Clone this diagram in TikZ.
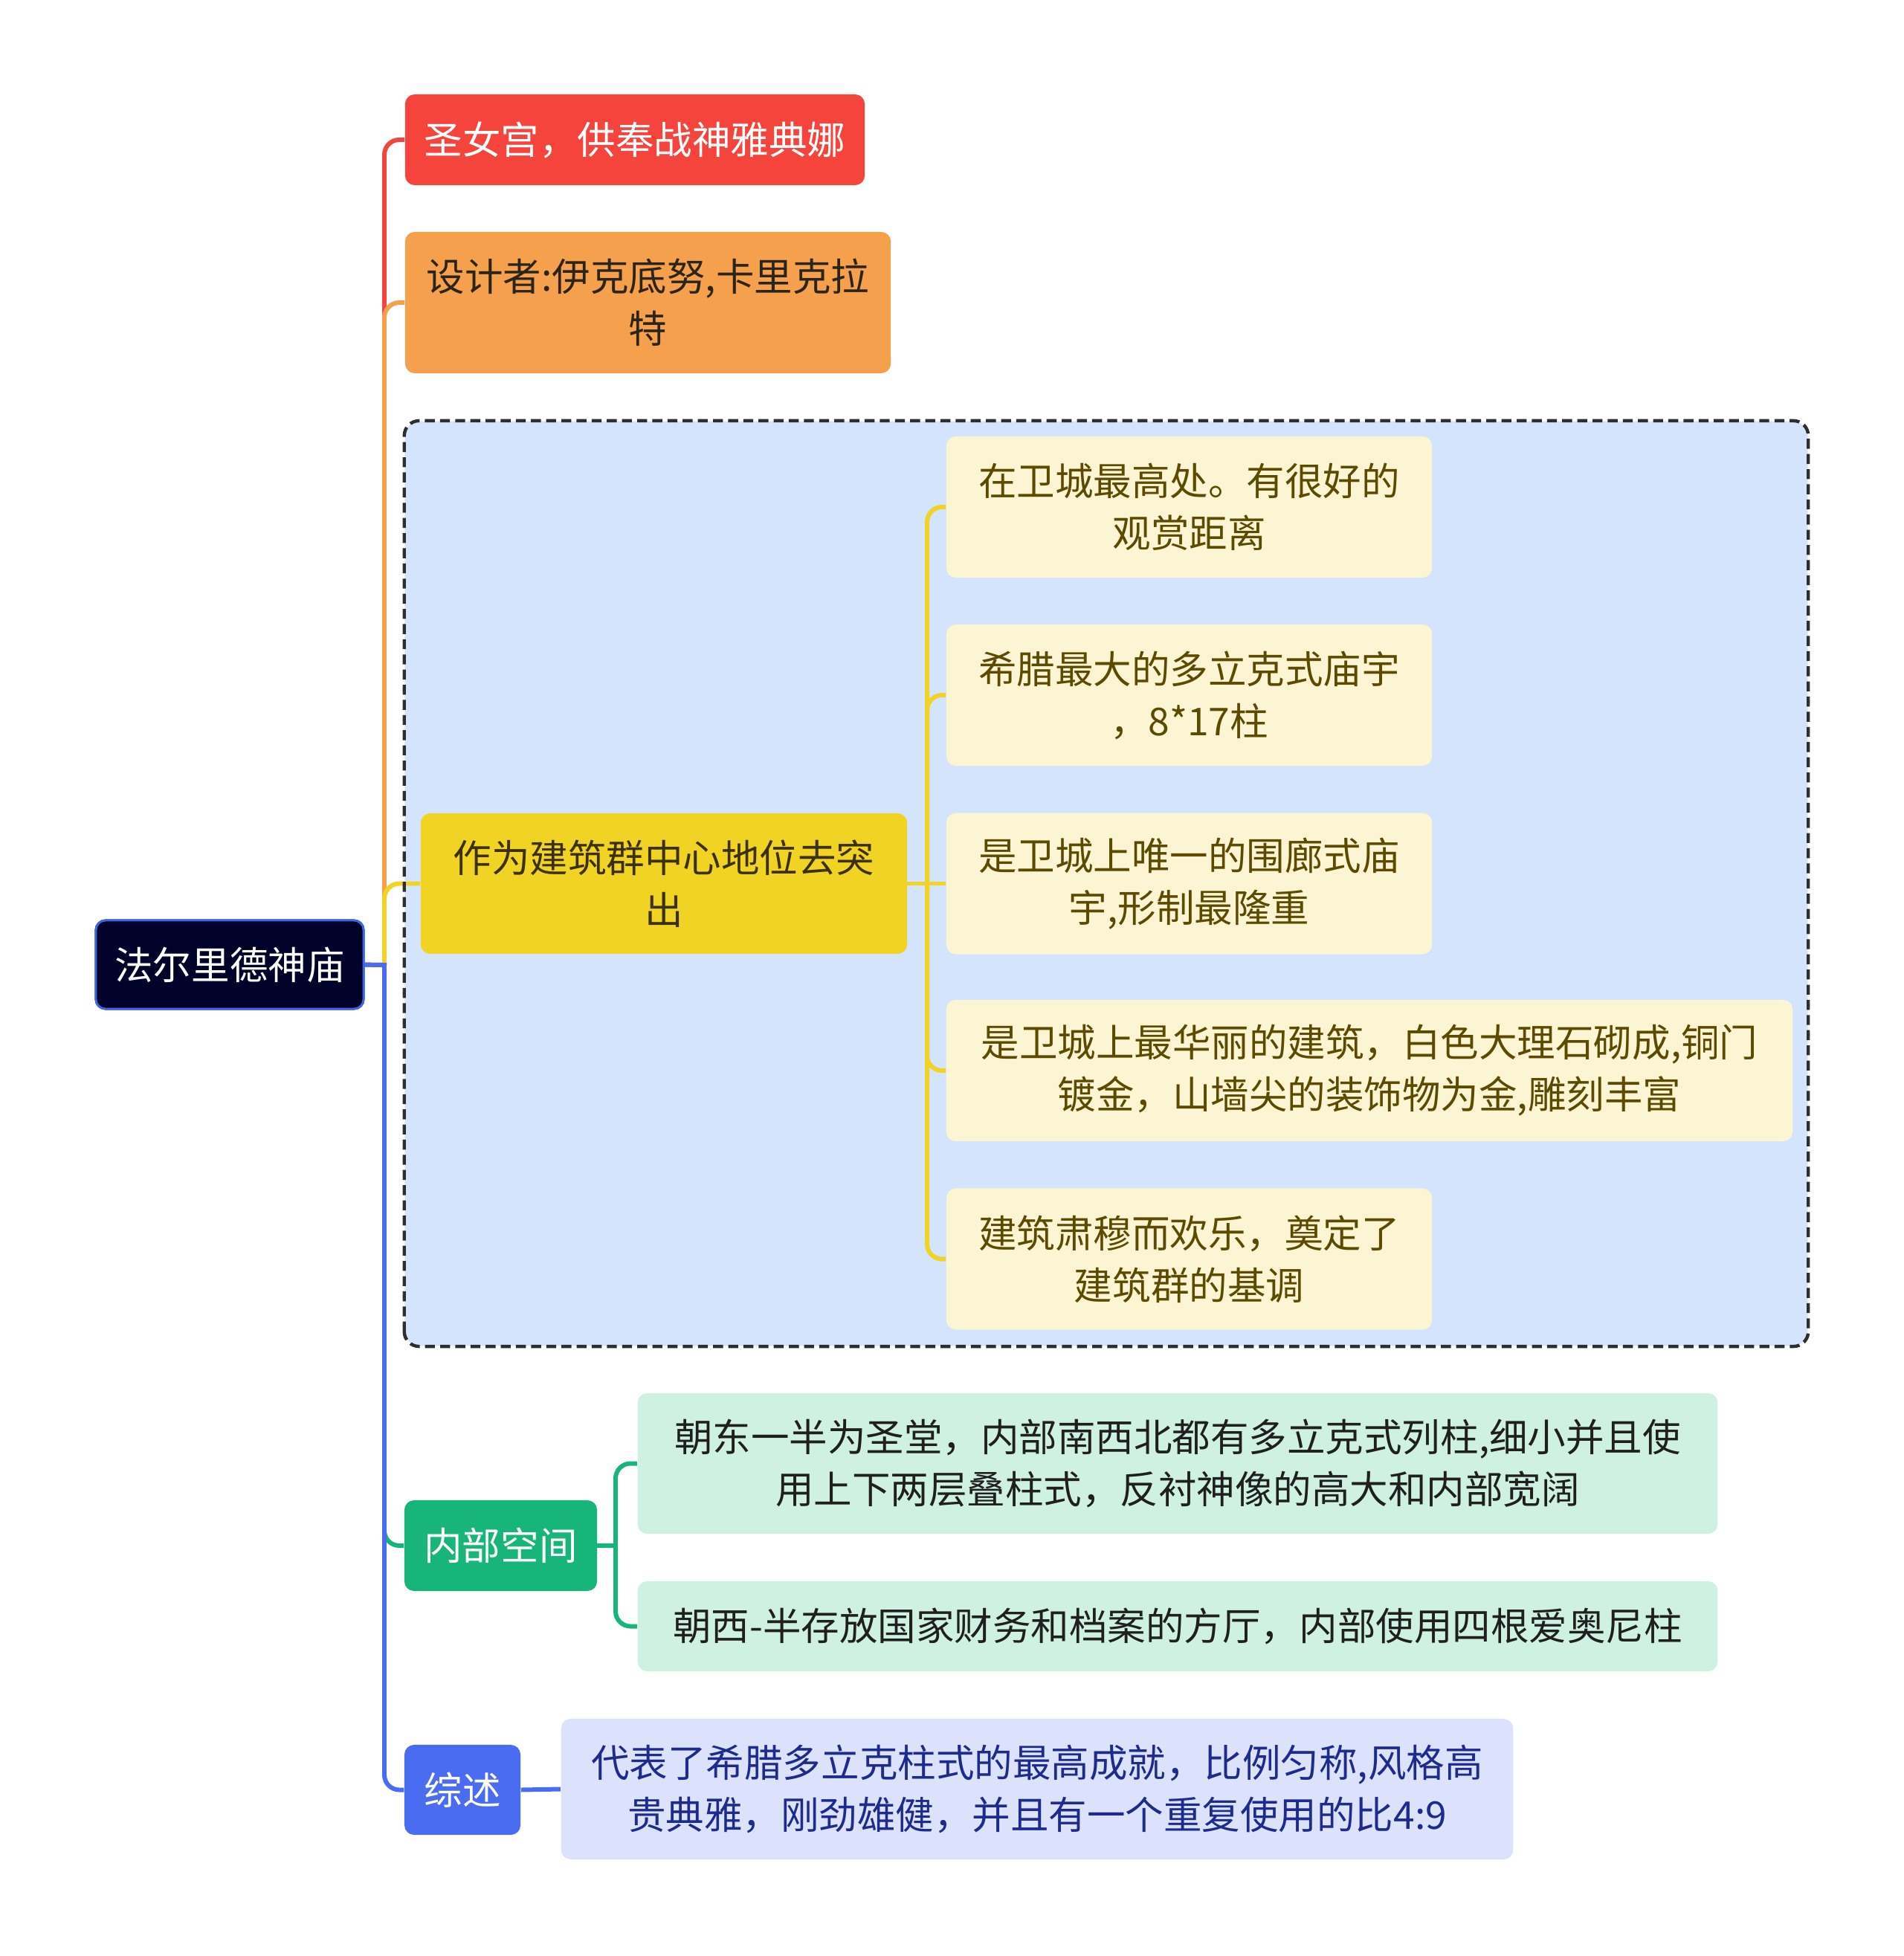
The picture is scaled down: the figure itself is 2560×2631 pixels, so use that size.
\documentclass[tikz,border=0pt]{standalone}
\usepackage{fontspec}
\setmainfont{Noto Sans CJK SC}
\definecolor{cRoot}{HTML}{00022A}
\definecolor{cRootB}{HTML}{3D66E0}
\definecolor{cRed}{HTML}{F5443C}
\definecolor{cOrange}{HTML}{F4A04C}
\definecolor{cYellow}{HTML}{F0D323}
\definecolor{cLYellow}{HTML}{FBF5D4}
\definecolor{cGroup}{HTML}{D4E4FC}
\definecolor{cGreen}{HTML}{17B57A}
\definecolor{cMint}{HTML}{CFF1E2}
\definecolor{cBlue}{HTML}{4A6CF0}
\definecolor{cLav}{HTML}{DCE2FC}
\definecolor{tBrown}{HTML}{2D2418}
\definecolor{tDarkY}{HTML}{3A3000}
\definecolor{tOlive}{HTML}{5B4A00}
\definecolor{tDark}{HTML}{1F1F1F}
\definecolor{tNavy}{HTML}{1D2A8E}
\begin{document}
\begin{tikzpicture}[x=0.01cm,y=-0.01cm,
  every node/.style={font=\fontsize{14.65pt}{19.9pt}\selectfont, align=center, inner sep=0pt},
  box/.style={rectangle, rounded corners=0.13cm},
  stub/.style={line width=1.7pt, line cap=rect},
  branch/.style={line width=1.7pt, rounded corners=0.2cm},
  grpfill/.style={rectangle, rounded corners=0.2cm, fill=cGroup},
  grpline/.style={draw=black!82, line width=1.25pt, dash pattern=on 3.8pt off 2pt, rounded corners=0.2cm}
]
\useasboundingbox (0,0) rectangle (2560,2631);

% group background
\node[grpfill, minimum width=18.86cm, minimum height=12.43cm] (grp) at (1488,1188.5) {};

% nodes
\node[box, fill=cRoot, draw=cRootB, line width=0.85pt, text=white, minimum width=3.6cm, minimum height=1.19cm] (root) at (309,1297.5) {法尔里德神庙};
\node[box, fill=cRed, text=white, minimum width=6.18cm, minimum height=1.22cm] (n1) at (854,188) {圣女宫，供奉战神雅典娜};
\node[box, fill=cOrange, text=tBrown, minimum width=6.53cm, minimum height=1.9cm] (n2) at (871.5,407) {设计者:伊克底努,卡里克拉\\特};
\node[box, fill=cYellow, text=tDarkY, minimum width=6.54cm, minimum height=1.89cm] (n3) at (893,1188.5) {作为建筑群中心地位去突\\出};
\node[box, fill=cLYellow, text=tOlive, minimum width=6.53cm, minimum height=1.9cm] (a) at (1599.5,682) {在卫城最高处。有很好的\\观赏距离};
\node[box, fill=cLYellow, text=tOlive, minimum width=6.53cm, minimum height=1.9cm] (b) at (1599.5,935) {希腊最大的多立克式庙宇\\，8*17柱};
\node[box, fill=cLYellow, text=tOlive, minimum width=6.53cm, minimum height=1.9cm] (c) at (1599.5,1188.5) {是卫城上唯一的围廊式庙\\宇,形制最隆重};
\node[box, fill=cLYellow, text=tOlive, minimum width=11.38cm, minimum height=1.9cm] (d) at (1842,1440) {是卫城上最华丽的建筑，白色大理石砌成,铜门\\镀金，山墙尖的装饰物为金,雕刻丰富};
\node[box, fill=cLYellow, text=tOlive, minimum width=6.53cm, minimum height=1.9cm] (e) at (1599.5,1693.5) {建筑肃穆而欢乐，奠定了\\建筑群的基调};
\node[box, fill=cGreen, text=white, minimum width=2.59cm, minimum height=1.22cm] (g) at (673.5,2079) {内部空间};
\node[box, fill=cMint, text=tDark, minimum width=14.52cm, minimum height=1.89cm] (g1) at (1584,1968.5) {朝东一半为圣堂，内部南西北都有多立克式列柱,细小并且使\\用上下两层叠柱式，反衬神像的高大和内部宽阔};
\node[box, fill=cMint, text=tDark, minimum width=14.52cm, minimum height=1.21cm] (g2) at (1584,2187.5) {朝西-半存放国家财务和档案的方厅，内部使用四根爱奥尼柱};
\node[box, fill=cBlue, text=white, minimum width=1.56cm, minimum height=1.21cm] (s) at (622,2407.5) {综述};
\node[box, fill=cLav, text=tNavy, minimum width=12.8cm, minimum height=1.89cm] (s1) at (1395,2406.5) {代表了希腊多立克柱式的最高成就，比例匀称,风格高\\贵典雅，刚劲雄健，并且有一个重复使用的比4:9};

% junction coordinates
\coordinate (t0) at (517,1298);
\coordinate (t1) at (1247,1188.5);
\coordinate (t2) at (828,2079);

% connectors (drawn in order so that later branches cover earlier ones)
\draw[stub, draw=cRed] ([xshift=-2pt]root.east) -- (t0);
\draw[branch, draw=cRed] (t0) -- (t0 |- n1.west) -- (n1.west);
\draw[branch, draw=cOrange] (t0) -- (t0 |- n2.west) -- (n2.west);
\draw[branch, draw=cYellow] (t0) -- (t0 |- n3.west) -- (n3.west);
\draw[branch, draw=cGreen] (t0) -- (t0 |- g.west) -- (g.west);
\draw[stub, draw=cBlue] ([xshift=-2pt]root.east) -- (t0);
\draw[branch, draw=cBlue] (t0) -- (t0 |- s.west) -- (s.west);
\draw[stub, draw=cYellow] (n3.east) -- (t1);
\foreach \k in {a,b,d,e}{
  \draw[branch, draw=cYellow] (t1) -- (t1 |- \k.west) -- (\k.west);
}
\draw[branch, draw=cYellow] (t1) -- (c.west);
\draw[stub, draw=cGreen] (g.east) -- (t2);
\foreach \k in {g1,g2}{
  \draw[branch, draw=cGreen] (t2) -- (t2 |- \k.west) -- (\k.west);
}
\draw[branch, draw=cBlue] (s.east) -- (s1.west);

% dashed group border on top
\draw[grpline] (grp.south west) rectangle (grp.north east);

% root on top of its connector stubs
\node[box, fill=cRoot, draw=cRootB, line width=0.85pt, text=white, minimum width=3.6cm, minimum height=1.19cm] (rootTop) at (root) {法尔里德神庙};
\end{tikzpicture}
\end{document}
